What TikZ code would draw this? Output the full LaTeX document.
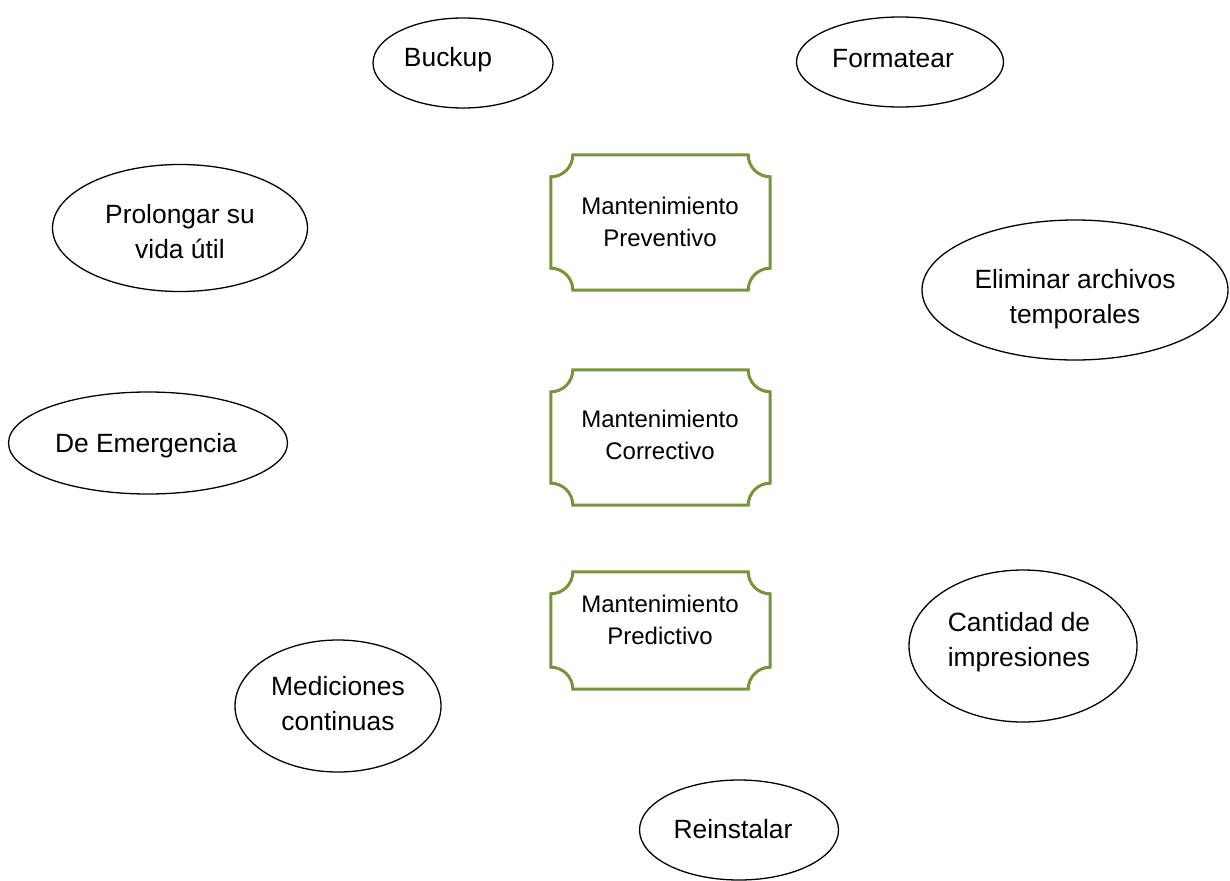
\documentclass[tikz,border=0pt]{standalone}
\usepackage{fontspec}
\setmainfont{Liberation Sans}
\definecolor{olivegr}{HTML}{77933C}
\usetikzlibrary{shapes.geometric}
\tikzset{
  ell/.style={draw=black, line width=1.3pt, ellipse, inner sep=0pt},
  elltext/.style={align=center, inner sep=0pt, font=\fontsize{26.4}{35}\selectfont},
  plaquebox/.style={rectangle, inner sep=0pt, minimum width=219pt},
  plaquetext/.style={align=center, inner sep=0pt, font=\fontsize{24}{32}\selectfont},
  plaqueline/.style={draw=olivegr, line width=3pt, line join=miter}
}
\newcommand{\drawplaque}[1]{%
  \draw[plaqueline]
    ([xshift=22pt]#1.north west) -- ([xshift=-22pt]#1.north east)
    arc[start angle=180, end angle=270, radius=22pt]
    -- ([yshift=22pt]#1.south east)
    arc[start angle=90, end angle=180, radius=22pt]
    -- ([xshift=22pt]#1.south west)
    arc[start angle=0, end angle=90, radius=22pt]
    -- ([yshift=-22pt]#1.north west)
    arc[start angle=270, end angle=360, radius=22pt] -- cycle;
}
\begin{document}
\begin{tikzpicture}[x=1pt, y=-1pt]
\useasboundingbox (0,0) rectangle (1230,880);
% ellipses
\node[ell, minimum width=180pt, minimum height=90pt] (buckup) at (463,63) {};
\node[elltext] (buckupt) at (448,60) {Buckup};
\node[ell, minimum width=207pt, minimum height=90pt] (format) at (900,62) {};
\node[elltext] (formatt) at (893,59) {Formatear};
\node[ell, minimum width=255pt, minimum height=127pt] (prolong) at (180,228) {};
\node[elltext] (prolongt) at (180,232) {Prolongar su\\vida útil};
\node[ell, minimum width=306pt, minimum height=140pt] (elim) at (1075,290) {};
\node[elltext] (elimt) at (1075,299) {Eliminar archivos\\temporales};
\node[ell, minimum width=279pt, minimum height=102pt] (emerg) at (148,443) {};
\node[elltext] (emergt) at (146,446) {De Emergencia};
\node[ell, minimum width=228pt, minimum height=152pt] (cant) at (1023,646) {};
\node[elltext] (cantt) at (1019,642) {Cantidad de\\impresiones};
\node[ell, minimum width=206pt, minimum height=132pt] (medic) at (338,706) {};
\node[elltext] (medict) at (338,704) {Mediciones\\continuas};
\node[ell, minimum width=199pt, minimum height=100pt] (reinst) at (739,830) {};
\node[elltext] (reinstt) at (733,829) {Reinstalar};
% plaques
\node[plaquebox, minimum height=135pt] (prev) at (660.5,222.5) {};
\node[plaquetext] (prevt) at (660,222) {Mantenimiento\\Preventivo};
\node[plaquebox, minimum height=135pt] (corr) at (660.5,437.5) {};
\node[plaquetext] (corrt) at (660,435) {Mantenimiento\\Correctivo};
\node[plaquebox, minimum height=117pt] (pred) at (660.5,630.5) {};
\node[plaquetext] (predt) at (660,620) {Mantenimiento\\Predictivo};
\drawplaque{prev}
\drawplaque{corr}
\drawplaque{pred}
\end{tikzpicture}
\end{document}
